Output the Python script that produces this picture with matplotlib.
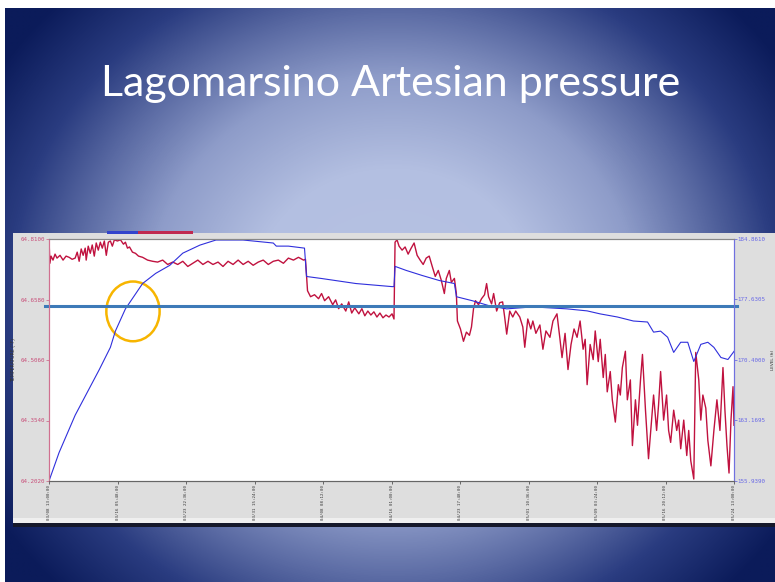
import numpy as np
import matplotlib.pyplot as plt
from matplotlib.colors import LinearSegmentedColormap
from matplotlib.patches import Rectangle, Ellipse

# Logger record: days since 03/08 13:00:00
temp_days = [0.00, 0.10, 0.23, 0.45, 0.68, 0.90, 1.24, 1.58, 1.92, 2.26, 2.60, 2.94, 3.17, 3.39, 3.62,
             3.84, 4.07, 4.18, 4.41, 4.64, 4.86, 5.09, 5.31, 5.54, 5.77, 5.99, 6.22, 6.44, 6.67, 6.90,
             7.12, 7.35, 7.69, 8.03, 8.37, 8.59, 8.82, 9.05, 9.38, 9.72, 10.06, 10.52, 11.08, 11.65,
             12.21, 12.78, 13.34, 13.91, 14.47, 15.04, 15.60, 16.17, 16.73, 17.30, 17.87, 18.43, 19.00,
             19.56, 20.13, 20.69, 21.26, 21.82, 22.39, 22.95, 23.52, 24.08, 24.65, 25.21, 25.78, 26.35,
             26.91, 27.48, 28.04, 28.61, 28.83, 29.06, 29.40, 29.85, 30.30, 30.64, 30.98, 31.43, 31.89,
             32.22, 32.56, 32.90, 33.36, 33.69, 34.03, 34.37, 34.83, 35.17, 35.50, 35.84, 36.18, 36.52,
             36.86, 37.20, 37.54, 37.88, 38.22, 38.56, 38.78, 38.90, 39.12, 39.35, 39.69, 40.03, 40.37,
             40.71, 41.04, 41.38, 41.72, 42.06, 42.40, 42.74, 43.08, 43.42, 43.76, 44.10, 44.44, 44.66,
             45.00, 45.23, 45.57, 45.79, 45.91, 46.25, 46.59, 46.92, 47.26, 47.49, 47.72, 47.94, 48.28,
             48.62, 48.96, 49.19, 49.41, 49.75, 49.98, 50.32, 50.66, 50.99, 51.22, 51.45, 51.79, 52.13,
             52.46, 52.92, 53.26, 53.48, 53.82, 54.16, 54.39, 54.73, 55.18, 55.52, 55.86, 56.31, 56.65,
             57.10, 57.44, 57.67, 58.01, 58.34, 58.68, 59.02, 59.36, 59.70, 60.04, 60.27, 60.49, 60.83,
             61.17, 61.40, 61.74, 61.96, 62.30, 62.53, 62.75, 63.09, 63.32, 63.66, 64.00, 64.22, 64.45,
             64.79, 65.01, 65.35, 65.58, 65.92, 66.15, 66.49, 66.71, 67.05, 67.39, 67.73, 67.96, 68.30,
             68.52, 68.75, 69.09, 69.42, 69.65, 69.88, 70.22, 70.56, 70.78, 71.01, 71.35, 71.69, 71.91,
             72.14, 72.48, 72.70, 73.04, 73.27, 73.50, 73.83, 74.06, 74.40, 74.74, 75.08, 75.42, 75.76,
             75.98, 76.21, 76.44, 76.66, 76.89, 77.00]
temp_f = [64.808, 64.749, 64.767, 64.757, 64.772, 64.762, 64.769, 64.757, 64.767, 64.764, 64.759, 64.762,
          64.777, 64.754, 64.785, 64.769, 64.787, 64.757, 64.792, 64.774, 64.795, 64.767, 64.800, 64.782,
          64.802, 64.787, 64.805, 64.769, 64.802, 64.805, 64.792, 64.808, 64.805, 64.808, 64.797, 64.802,
          64.787, 64.790, 64.777, 64.774, 64.767, 64.764, 64.757, 64.754, 64.752, 64.757, 64.746, 64.752,
          64.746, 64.754, 64.741, 64.749, 64.757, 64.746, 64.754, 64.746, 64.752, 64.741, 64.754, 64.746,
          64.757, 64.746, 64.754, 64.744, 64.752, 64.757, 64.746, 64.754, 64.757, 64.749, 64.762, 64.757,
          64.764, 64.757, 64.759, 64.680, 64.665, 64.670, 64.660, 64.673, 64.655, 64.665, 64.645, 64.657,
          64.635, 64.647, 64.629, 64.652, 64.624, 64.637, 64.622, 64.635, 64.617, 64.629, 64.619, 64.627,
          64.614, 64.624, 64.612, 64.619, 64.614, 64.622, 64.609, 64.802, 64.808, 64.792, 64.782, 64.790,
          64.772, 64.787, 64.800, 64.769, 64.757, 64.746, 64.762, 64.767, 64.741, 64.716, 64.731, 64.706,
          64.673, 64.711, 64.731, 64.701, 64.711, 64.673, 64.604, 64.584, 64.553, 64.576, 64.568, 64.589,
          64.635, 64.655, 64.645, 64.660, 64.670, 64.698, 64.665, 64.647, 64.673, 64.629, 64.650, 64.652,
          64.614, 64.571, 64.629, 64.614, 64.629, 64.614, 64.589, 64.538, 64.609, 64.584, 64.604, 64.573,
          64.594, 64.533, 64.579, 64.563, 64.604, 64.622, 64.558, 64.512, 64.573, 64.482, 64.545, 64.584,
          64.563, 64.604, 64.533, 64.558, 64.444, 64.545, 64.507, 64.579, 64.502, 64.558, 64.462, 64.520,
          64.426, 64.477, 64.406, 64.350, 64.444, 64.418, 64.487, 64.528, 64.406, 64.456, 64.291, 64.406,
          64.342, 64.456, 64.520, 64.380, 64.258, 64.355, 64.418, 64.329, 64.393, 64.477, 64.355, 64.418,
          64.329, 64.299, 64.380, 64.329, 64.355, 64.283, 64.355, 64.266, 64.329, 64.253, 64.207, 64.525,
          64.456, 64.355, 64.418, 64.385, 64.304, 64.240, 64.329, 64.406, 64.329, 64.487, 64.380, 64.291,
          64.222, 64.355, 64.439, 64.342]

level_days = [0.00, 1.13, 2.94, 5.65, 6.90, 7.46, 8.59, 10.52, 11.99, 13.57, 15.04, 16.96, 18.77, 21.82,
              25.21, 25.55, 26.91, 28.72, 28.95, 30.64, 34.49, 38.56, 38.78, 38.90, 40.14, 41.95, 43.87,
              45.57, 45.80, 47.60, 49.53, 51.45, 54.39, 58.23, 60.49, 61.96, 63.89, 65.69, 67.28, 67.96,
              68.75, 69.54, 70.22, 71.01, 71.80, 72.48, 73.27, 74.06, 74.74, 75.53, 76.32, 77.00]
level_ft = [155.94, 159.33, 163.80, 169.25, 171.91, 173.85, 176.51, 179.54, 180.75, 181.71, 183.17,
            184.13, 184.74, 184.74, 184.38, 184.01, 184.01, 183.77, 180.38, 180.14, 179.54, 179.17,
            179.17, 181.59, 181.11, 180.50, 179.90, 179.54, 177.96, 177.48, 176.87, 176.51, 176.75,
            176.51, 176.27, 175.91, 175.54, 175.06, 174.94, 173.73, 173.85, 173.12, 171.31, 172.52,
            172.52, 170.22, 172.27, 172.52, 171.91, 170.70, 170.46, 171.43]

tick_days = [0.0, 7.7, 15.4, 23.1, 30.8, 38.5, 46.2, 53.9, 61.6, 69.3, 77.0]
tick_labels = ["03/08 13:00:00", "03/16 05:48:00", "03/23 22:36:00", "03/31 15:24:00",
               "04/08 08:12:00", "04/16 01:00:00", "04/23 17:48:00", "05/01 10:36:00",
               "05/09 03:24:00", "05/16 20:12:00", "05/24 13:00:00"]
temp_ticks = [64.2020, 64.3540, 64.5060, 64.6580, 64.8100]
level_ticks = [155.9390, 163.1695, 170.4000, 177.6305, 184.8610]

W, H = 775, 582
fig = plt.figure(figsize=(W / 100, H / 100), dpi=100, facecolor="white")

# slide background with a radial glow
bg = fig.add_axes([0, 0, 1, 1])
yy, xx = np.mgrid[0:H, 0:W]
r = np.sqrt(((xx - 390) / 410.0) ** 2 + ((yy - 290) / 370.0) ** 2)
glow = LinearSegmentedColormap.from_list(
    "glow", [(0.0, "#b7c2e3"), (0.30, "#b3bfe1"), (0.52, "#8e9cc9"), (0.68, "#5a6aa3"),
             (0.82, "#2a3c80"), (1.0, "#0b1b5a")])
bg.imshow(np.clip(r / 1.15, 0, 1), cmap=glow, vmin=0, vmax=1,
          extent=[5, W, H, 8], aspect="auto", interpolation="bilinear")
bg.set_xlim(0, W)
bg.set_ylim(H, 0)
bg.axis("off")

# screenshot panel behind the chart
bg.add_patch(Rectangle((13, 233), W - 13, 290, color="#dedede", lw=0))
bg.add_patch(Rectangle((13, 518), W - 13, 5, color="#efefef", lw=0))
bg.add_patch(Rectangle((13, 523), W - 13, 4, color="#15182a", lw=0))
bg.add_patch(Rectangle((107, 230.5), 31, 3, color="#3344cc", lw=0))
bg.add_patch(Rectangle((138, 230.5), 55, 3, color="#c02a50", lw=0))

fig.text(391 / W, 1 - 96 / H, "Lagomarsino Artesian pressure", color="white",
         fontsize=31, family="Lato", ha="center", va="baseline")

ax = fig.add_axes([49 / W, 1 - 481 / H, (734 - 49) / W, (481 - 239) / H])
ax.set_facecolor("white")
ax2 = ax.twinx()

ax.plot(temp_days, temp_f, color="#c0123f", lw=1.0)
ax2.plot(level_days, level_ft, color="#2f2fdc", lw=0.8)

ax.set_xlim(0, 77)
ax.set_ylim(64.2020, 64.8100)
ax2.set_ylim(155.9390, 184.8610)

ax.set_xticks(tick_days)
ax.set_xticklabels(tick_labels, rotation=90, family="DejaVu Sans Mono", fontsize=3.0, color="#333333")
ax.set_yticks(temp_ticks)
ax.set_yticklabels([f"{v:.4f}" for v in temp_ticks], family="DejaVu Sans Mono", fontsize=4.2,
                   color="#c8507a")
ax2.set_yticks(level_ticks)
ax2.set_yticklabels([f"{v:.4f}" for v in level_ticks], family="DejaVu Sans Mono", fontsize=4.2,
                    color="#6a6ae6")
ax.tick_params(axis="x", length=2.0, width=0.6, pad=0.8, color="#555555")
ax.tick_params(axis="y", length=2.0, width=0.6, pad=0.5, color="#d07090")
ax2.tick_params(axis="y", length=2.0, width=0.6, pad=0.5, color="#7070e0")

ax.set_ylabel("TEMPERATURE (°F)", fontsize=3.3, color="#333333")
ax.yaxis.set_label_coords(-0.048, 0.5)
ax2.set_ylabel("LEVEL (ft)", fontsize=3.1, color="#333333")
ax2.yaxis.set_label_coords(1.0535, 0.5)

for a in (ax, ax2):
    a.spines["top"].set_color("#888888")
    a.spines["bottom"].set_color("#666666")
    a.spines["left"].set_color("#d07090")
    a.spines["right"].set_color("#7070e0")
    for s in a.spines.values():
        s.set_linewidth(0.8)

# reference level line and highlighted crossing
ax2.axhline(176.8, xmin=-0.006, xmax=1.005, color="#3d7ab8", lw=2.2, clip_on=False)
ax2.add_patch(Ellipse((9.44, 176.21), 5.99, 7.14, fill=False, edgecolor="#f7b500", lw=1.8,
                      clip_on=False))

fig.savefig("out.png", dpi=100, facecolor=fig.get_facecolor())
